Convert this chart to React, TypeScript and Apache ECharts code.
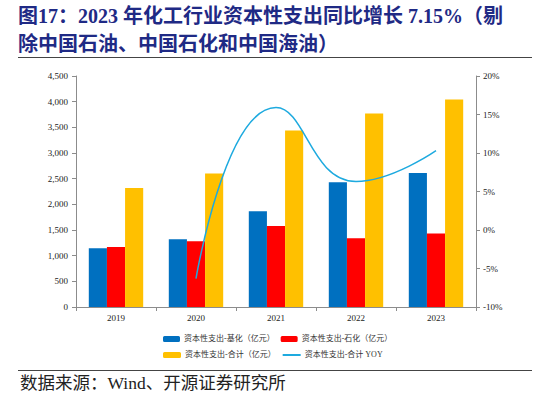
import React, { useEffect, useRef } from "react";
import * as echarts from "echarts";

const categories = ["2019", "2020", "2021", "2022", "2023"];
const basicChem = [1145, 1320, 1865, 2430, 2610];
const petroChem = [1170, 1280, 1578, 1340, 1430];
const totalCapex = [2320, 2600, 3440, 3770, 4040];
const totalYoy: (number | null)[] = [null, -6.3, 15.9, 6.3, 10.3];

const nameBasic = "资本性支出-基化（亿元）";
const namePetro = "资本性支出-石化（亿元）";
const nameTotal = "资本性支出-合计（亿元）";
const nameYoy = "资本性支出-合计 YOY";

const titleLine1 = "图17：2023 年化工行业资本性支出同比增长 7.15%（剔";
const titleLine2 = "除中国石油、中国石化和中国海油）";
const sourceText = "数据来源：Wind、开源证券研究所";

const serif = "'Liberation Serif', 'Noto Sans CJK SC', serif";

export default function App() {
  const ref = useRef<HTMLDivElement>(null);
  useEffect(() => {
    document.body.style.margin = "0";
    const chart = echarts.init(ref.current!, null, { renderer: "svg" });
    const axisLineStyle = { color: "#8c8c8c", width: 1 };
    const legendText = { fontSize: 8, color: "#333", fontFamily: serif, padding: [0, 0, 0, -1] };
    chart.setOption({
      animation: false,
      backgroundColor: "#ffffff",
      grid: { left: 76, right: 74, top: 76, bottom: 90, outerBoundsMode: "none" },
      graphic: [
        {
          type: "text",
          left: 18,
          top: 6,
          style: { text: titleLine1, fontSize: 20, fontWeight: "bold", fill: "#1f2a85", fontFamily: serif },
        },
        {
          type: "text",
          left: 18,
          top: 34,
          style: { text: titleLine2, fontSize: 20, fontWeight: "bold", fill: "#1f2a85", fontFamily: serif },
        },
        {
          type: "line",
          shape: { x1: 18, y1: 57.5, x2: 532, y2: 57.5 },
          style: { stroke: "#444", lineWidth: 1 },
        },
        {
          type: "line",
          shape: { x1: 18, y1: 370.5, x2: 532, y2: 370.5 },
          style: { stroke: "#444", lineWidth: 1 },
        },
        {
          type: "text",
          left: 20,
          top: 374,
          style: { text: sourceText, fontSize: 17.5, fill: "#222", fontFamily: serif },
        },
      ],
      legend: [
        {
          data: [nameBasic, namePetro],
          left: 158,
          top: 330,
          itemWidth: 17,
          itemHeight: 6,
          itemGap: 6,
          textStyle: legendText,
        },
        {
          data: [
            nameTotal,
            { name: nameYoy, itemStyle: { color: "transparent", borderWidth: 0 } },
          ],
          left: 158,
          top: 346,
          itemWidth: 18,
          itemHeight: 6,
          itemGap: 6,
          textStyle: legendText,
        },
      ],
      xAxis: {
        type: "category",
        data: categories,
        axisLine: { lineStyle: axisLineStyle },
        axisTick: { show: true, length: 4, lineStyle: axisLineStyle },
        axisLabel: { fontSize: 9, color: "#222", fontFamily: serif, margin: 6 },
      },
      yAxis: [
        {
          type: "value",
          min: 0,
          max: 4500,
          interval: 500,
          axisLine: { show: true, lineStyle: axisLineStyle },
          axisTick: { show: true, length: 4, lineStyle: axisLineStyle },
          splitLine: { show: false },
          axisLabel: {
            fontSize: 9,
            color: "#222",
            fontFamily: serif,
            margin: 8,
            formatter: (v: number) => v.toLocaleString("en-US"),
          },
        },
        {
          type: "value",
          min: -10,
          max: 20,
          interval: 5,
          position: "right",
          axisLine: { show: true, lineStyle: axisLineStyle },
          axisTick: { show: true, length: 4, lineStyle: axisLineStyle },
          splitLine: { show: false },
          axisLabel: {
            fontSize: 9,
            color: "#222",
            fontFamily: serif,
            margin: 7,
            formatter: (v: number) => `${v}%`,
          },
        },
      ],
      series: [
        {
          name: nameBasic,
          type: "bar",
          data: basicChem,
          itemStyle: { color: "#0070c0" },
          barGap: "0%",
          barCategoryGap: "32%",
        },
        {
          name: namePetro,
          type: "bar",
          data: petroChem,
          itemStyle: { color: "#ff0000" },
          barGap: "0%",
          barCategoryGap: "32%",
        },
        {
          name: nameTotal,
          type: "bar",
          data: totalCapex,
          itemStyle: { color: "#ffc000" },
          barGap: "0%",
          barCategoryGap: "32%",
        },
        {
          name: nameYoy,
          type: "line",
          yAxisIndex: 1,
          data: totalYoy,
          smooth: true,
          symbol: "none",
          lineStyle: { color: "#1eaadf", width: 1.5 },
          itemStyle: { color: "#1eaadf" },
        },
      ],
    });
    return () => chart.dispose();
  }, []);
  return <div ref={ref} style={{ width: 550, height: 397 }} />;
}
